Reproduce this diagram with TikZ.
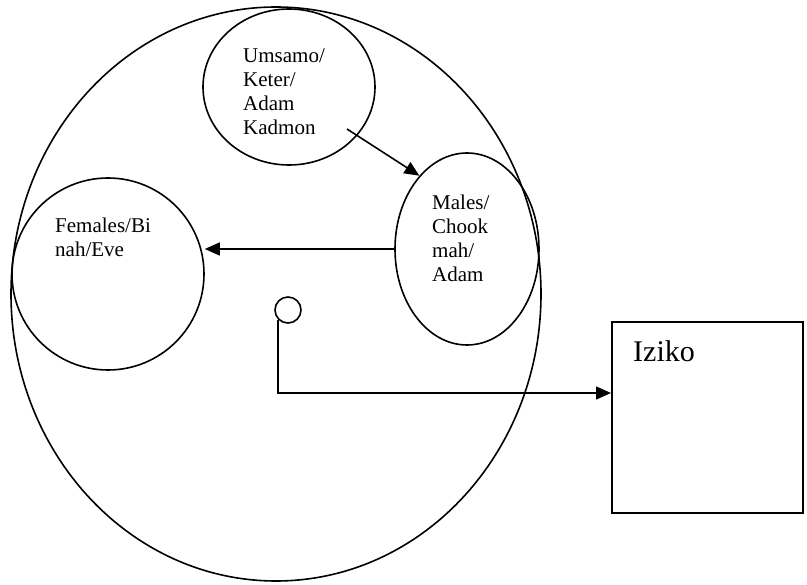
\documentclass[tikz,border=0pt]{standalone}
\usepackage{fontspec}
\setmainfont{Liberation Serif}
\usetikzlibrary{shapes.geometric,arrows.meta}
\begin{document}
\begin{tikzpicture}[x=1pt,y=-1pt,
  ring/.style={draw=black,line width=1.6pt,ellipse,inner sep=0pt},
  lbl/.style={anchor=base west,align=left,inner sep=0pt,font=\fontsize{21}{24.3}\selectfont},
  conn/.style={draw=black,line width=1.6pt,-{Triangle[length=15pt,width=13pt]}}]
\useasboundingbox (0,0) rectangle (807,585);
\node[ring,minimum width=530pt,minimum height=574pt] (outer) at (276,294) {};
\node[ring,minimum width=172pt,minimum height=156pt] (top) at (289,87) {};
\node[ring,minimum width=192pt,minimum height=192pt] (fem) at (108,274) {};
\node[ring,minimum width=144pt,minimum height=192pt] (male) at (467,249) {};
\node[draw=black,line width=1.6pt,circle,minimum size=26pt,inner sep=0pt] (small) at (288,310) {};
\node[draw=black,line width=2pt,rectangle,minimum width=191pt,minimum height=191pt,inner sep=0pt] (iziko) at (707.5,417.5) {};
% anchor base = baseline of the last line
\node[lbl] (ttop) at (243,135) {Umsamo/\\Keter/\\Adam\\Kadmon};
\node[lbl] (tfem) at (55,257) {Females/Bi\\nah/Eve};
\node[lbl] (tmale) at (432,282) {Males/\\Chook\\mah/\\Adam};
\node[anchor=base west,inner sep=0pt,font=\fontsize{30}{36}\selectfont] (tiz) at (633,362) {Iziko};
\coordinate (src) at (347,129);
\draw[conn] (src) -- (male.123);
\draw[conn] (male.west) -- (fem.east |- male.west);
\draw[conn] (small.south west) |- ([yshift=-72pt]iziko.north west);
\end{tikzpicture}
\end{document}
